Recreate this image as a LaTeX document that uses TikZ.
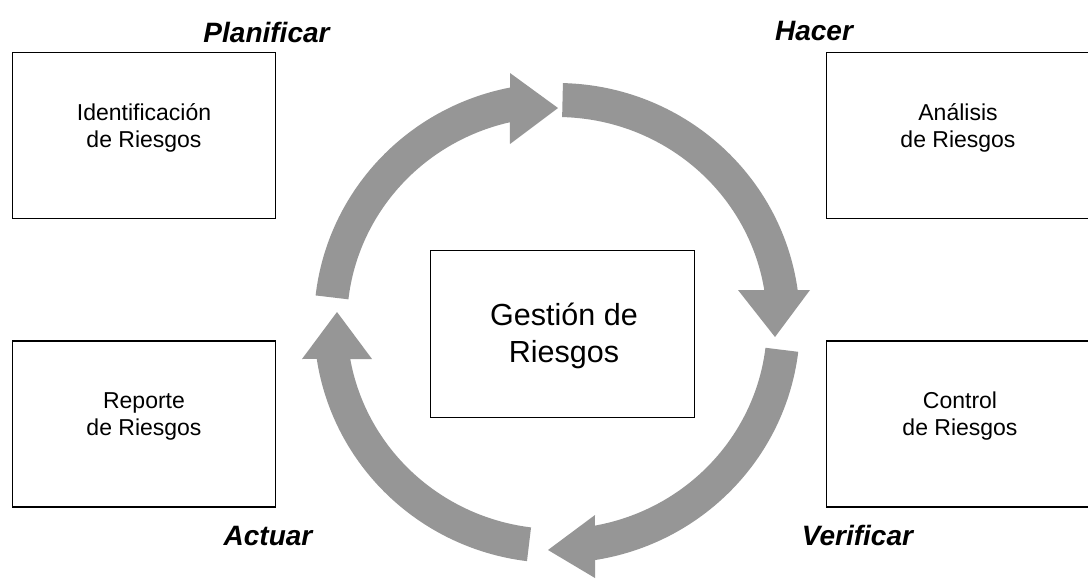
\documentclass[tikz,border=0pt]{standalone}
\usepackage{fontspec}
\setmainfont{Liberation Sans}
\usetikzlibrary{calc}
\definecolor{arrowgray}{RGB}{150,150,150}
\begin{document}
\begin{tikzpicture}[x=1pt,y=-1pt,
  box/.style={draw=black, line width=1.3pt, inner sep=0pt, minimum width=263pt, minimum height=166pt},
  boxtext/.style={font=\fontsize{23}{27}\selectfont, align=center, inner sep=0pt},
  centertext/.style={font=\fontsize{30.5}{37}\selectfont, align=center, inner sep=0pt},
  phase/.style={font=\fontsize{28}{32}\selectfont\bfseries\itshape, inner sep=0pt, anchor=base},
  cyc/.style={fill=arrowgray, draw=none}]
\useasboundingbox (0,0) rectangle (1088,579);
\fill[white] (0,0) rectangle (1088,579);

% cycle arrows
\coordinate (c) at (557,323);
\fill[cyc] ($(c)+(186.6:243 and 240)$) arc[start angle=186.6, end angle=258.9, x radius=243, y radius=240]
  -- (510,73) -- (558,108) -- (510,144)
  -- ($(c)+(257:210 and 206)$) arc[start angle=257, end angle=186.6, x radius=210, y radius=206] -- cycle;
\fill[cyc] ($(c)+(271.4:243 and 240)$) arc[start angle=271.4, end angle=352.1, x radius=243, y radius=240]
  -- (810,290) -- (775,337) -- (738,290)
  -- ($(c)+(350.8:210 and 206)$) arc[start angle=350.8, end angle=271.4, x radius=210, y radius=206] -- cycle;
\fill[cyc] ($(c)+(6.9:243 and 240)$) arc[start angle=6.9, end angle=81.0, x radius=243, y radius=240]
  -- (595,578) -- (548,550) -- (595,515)
  -- ($(c)+(79.6:210 and 206)$) arc[start angle=79.6, end angle=6.9, x radius=210, y radius=206] -- cycle;
\fill[cyc] ($(c)+(97.1:243 and 240)$) arc[start angle=97.1, end angle=171.4, x radius=243, y radius=240]
  -- (302,359) -- (337,312) -- (372,359)
  -- ($(c)+(169.9:210 and 206)$) arc[start angle=169.9, end angle=97.1, x radius=210, y radius=206] -- cycle;

% boxes
\node[box] (ident) at (144,135.5) {};
\node[box] (anal) at (958,135.5) {};
\node[box] (rep) at (144,424) {};
\node[box] (ctrl) at (958,424) {};
\node[box, minimum width=264pt, minimum height=167pt] (gest) at (562.5,334) {};

\node[boxtext] (identt) at (144,127.5) {Identificación\\de Riesgos};
\node[boxtext] (analt) at (958,127.5) {Análisis\\de Riesgos};
\node[boxtext] (rept) at (144,416) {Reporte\\de Riesgos};
\node[boxtext] (ctrlt) at (960,416) {Control\\de Riesgos};
\node[centertext] (gestt) at (564,336) {Gestión de\\Riesgos};

% phase labels
\node[phase] (plan) at (266.5,42) {Planificar};
\node[phase] (hacer) at (814,40) {Hacer};
\node[phase] (actuar) at (268,545) {Actuar};
\node[phase] (verif) at (857.5,545) {Verificar};
\end{tikzpicture}
\end{document}
